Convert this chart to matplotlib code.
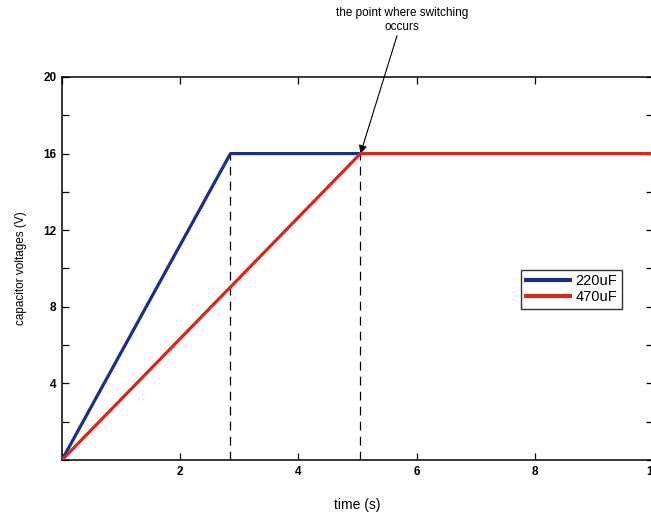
import matplotlib
matplotlib.use("Agg")
import matplotlib.pyplot as plt
from matplotlib.ticker import MultipleLocator, FixedLocator

plt.rcParams['font.family'] = ['Liberation Sans', 'DejaVu Sans']

# Charging curves of the two capacitors (time in s, voltage in V)
t_220 = [0, 2.85, 5.05]
v_220 = [0, 16, 16]
t_470 = [0, 5.05, 10]
v_470 = [0, 16, 16]

# Instants at which each capacitor reaches full charge
switch_times = [2.85, 5.05]
switch_level = 16

series_labels = ['220uF', '470uF']
x_ticklabels = [2, 4, 6, 8, 10]
y_ticklabels = [4, 8, 12, 16, 20]

fig = plt.figure(figsize=(6.51, 5.23), dpi=100)
ax = fig.add_axes([0.0952, 0.1205, 0.9080, 0.7323])

ax.plot(t_220, v_220, color='#1c2f86', lw=2.3, label=series_labels[0], zorder=3)
ax.plot(t_470, v_470, color='#d8281c', lw=2.3, label=series_labels[1], zorder=4)

for ts in switch_times:
    ax.plot([ts, ts], [0, switch_level], color='black', lw=0.9,
            linestyle=(0, (7, 5)), zorder=2)

ax.set_xlim(0, 10)
ax.set_ylim(0, 20)
ax.xaxis.set_major_locator(FixedLocator(x_ticklabels))
ax.xaxis.set_minor_locator(MultipleLocator(2))
ax.yaxis.set_major_locator(FixedLocator(y_ticklabels))
ax.yaxis.set_minor_locator(MultipleLocator(2))
ax.tick_params(which='both', direction='in', top=True, right=True,
               labelsize=8.5, length=5, width=0.9, pad=4)
for lbl in ax.get_xticklabels() + ax.get_yticklabels():
    lbl.set_fontweight('bold')
for sp in ax.spines.values():
    sp.set_linewidth(1.1)

ax.set_xlabel('time (s)', fontsize=10, labelpad=15)
ax.set_ylabel('capacitor voltages (V)', fontsize=8.5, labelpad=12)

ax.annotate('the point where switching\noccurs',
            xy=(switch_times[1], switch_level), xytext=(5.75, 22.3),
            ha='center', va='bottom', fontsize=8.5, annotation_clip=False,
            arrowprops=dict(arrowstyle='-|>', color='black', lw=0.8,
                            mutation_scale=12, shrinkA=0, shrinkB=0))

leg = ax.legend(loc='upper left', bbox_to_anchor=(0.765, 0.516), fontsize=10.5,
                frameon=True, fancybox=False, edgecolor='black',
                handlelength=3.0, borderpad=0.3, labelspacing=0.15,
                handletextpad=0.4)
leg.get_frame().set_linewidth(1.0)
for line in leg.get_lines():
    line.set_linewidth(3)

fig.savefig('out.png', dpi=100)
